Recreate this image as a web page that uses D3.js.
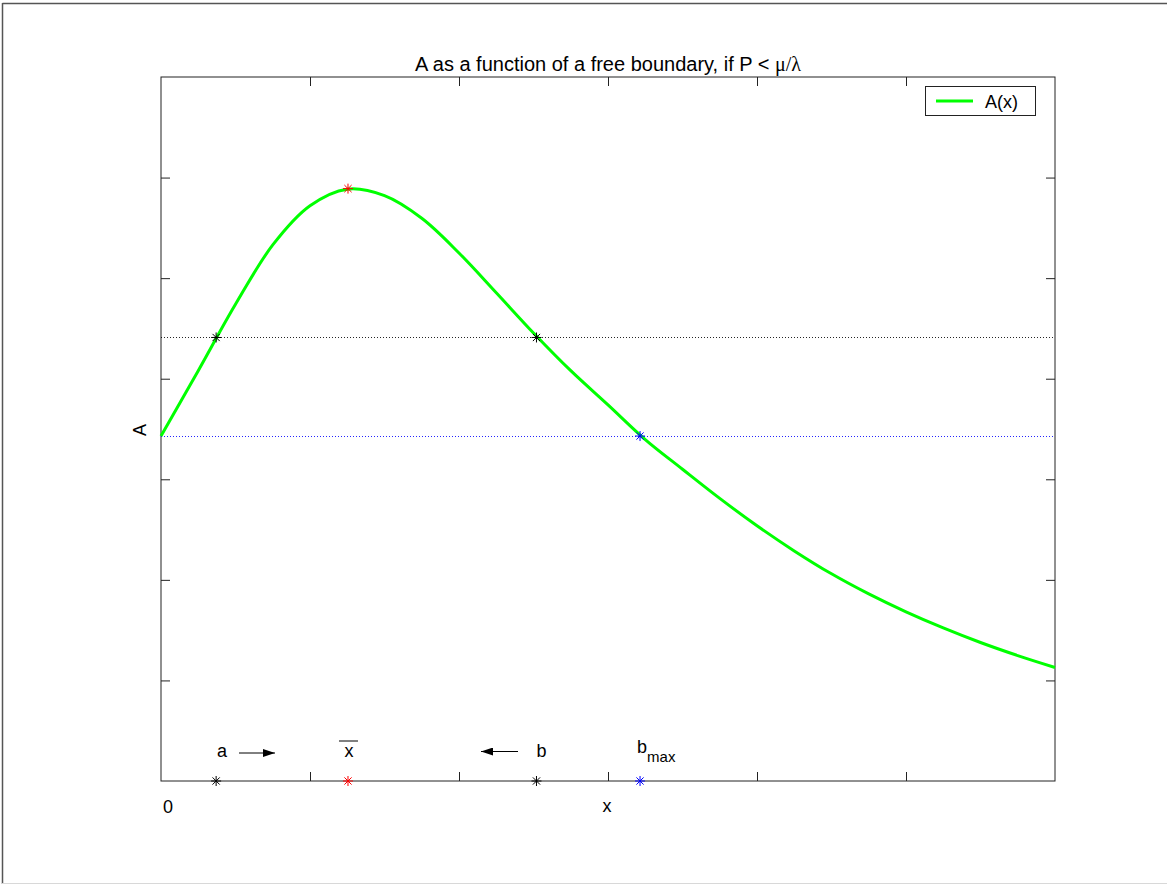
<!DOCTYPE html>
<html>
<head>
<meta charset="utf-8">
<script src="https://cdn.jsdelivr.net/npm/d3@7"></script>
<style>
  html, body { margin: 0; padding: 0; background: #ffffff; }
  svg { display: block; }
  text { font-family: "Liberation Sans", Arial, sans-serif; fill: #000; }
</style>
</head>
<body>
<svg id="chart" width="1167" height="884"></svg>
<script>
// ---- data ----
const curveX = [0, 0.25, 0.5, 0.75, 1.0, 1.25, 1.5, 1.75, 2.0, 2.25, 2.5, 2.75, 3.0, 3.25, 3.5, 3.75, 4.0, 4.25, 4.5, 4.75, 5.0, 5.25, 5.5, 5.75, 6.0];
const curveA = [3.43, 4.08, 4.74, 5.33, 5.72, 5.885, 5.82, 5.595, 5.25, 4.855, 4.455, 4.08, 3.74, 3.395, 3.10, 2.81, 2.538, 2.288, 2.06, 1.86, 1.682, 1.522, 1.377, 1.247, 1.129];
const markerNames = ["a", "xbar", "b", "bmax"];
const markerX = [0.37, 1.255, 2.52, 3.215];
const markerA = [4.41, 5.89, 4.41, 3.43];
const markerColors = ["#000000", "#ff0000", "#000000", "#0000ff"];
const levelValues = [4.41, 3.43];
const levelColors = ["#000000", "#0000ff"];
const xTicks = [1, 2, 3, 4, 5];
const yTicks = [1, 2, 3, 4, 5, 6];
const xDomain = [0, 6];
const yDomain = [0, 7];
const titleText = "A as a function of a free boundary, if P < ";
const legendLabel = "A(x)";

// ---- layout ----
const svg = d3.select("#chart");
const L = 161, R = 1055, T = 77, B = 781;
const x = d3.scaleLinear().domain(xDomain).range([L, R]);
const y = d3.scaleLinear().domain(yDomain).range([B, T]);

// figure frame
svg.append("line").attr("x1", 2.5).attr("x2", 1167).attr("y1", 3.5).attr("y2", 3.5).attr("stroke", "#555").attr("stroke-width", 1.5);
svg.append("line").attr("x1", 2.5).attr("x2", 2.5).attr("y1", 3).attr("y2", 884).attr("stroke", "#555").attr("stroke-width", 1.5);
svg.append("line").attr("x1", 2).attr("x2", 1167).attr("y1", 883.5).attr("y2", 883.5).attr("stroke", "#d8d8d8").attr("stroke-width", 1);

// axes box
const g = svg.append("g");
g.append("rect").attr("x", L).attr("y", T).attr("width", R - L).attr("height", B - T)
  .attr("fill", "none").attr("stroke", "#222").attr("stroke-width", 1);

// ticks via d3 axes (inward)
const tk = 9;
function styleAxis(sel) {
  sel.select(".domain").remove();
  sel.selectAll(".tick line").attr("stroke", "#222");
  sel.selectAll(".tick text").remove();
}
g.append("g").attr("transform", `translate(0,${B})`).call(d3.axisTop(x).tickValues(xTicks).tickSize(tk)).call(styleAxis);
g.append("g").attr("transform", `translate(0,${T})`).call(d3.axisBottom(x).tickValues(xTicks).tickSize(tk)).call(styleAxis);
g.append("g").attr("transform", `translate(${L},0)`).call(d3.axisRight(y).tickValues(yTicks).tickSize(tk)).call(styleAxis);
g.append("g").attr("transform", `translate(${R},0)`).call(d3.axisLeft(y).tickValues(yTicks).tickSize(tk)).call(styleAxis);

// level lines (dotted)
levelValues.forEach((v, i) => {
  g.append("line").attr("x1", L).attr("x2", R).attr("y1", Math.round(y(v)) + 0.5).attr("y2", Math.round(y(v)) + 0.5)
    .attr("stroke", levelColors[i]).attr("stroke-width", 1).attr("stroke-dasharray", "1,2").attr("opacity", 0.85);
});

// curve
const pts = curveX.map((d, i) => [d, curveA[i]]);
g.append("path").datum(pts)
  .attr("d", d3.line().x(d => x(d[0])).y(d => y(d[1])).curve(d3.curveCatmullRom))
  .attr("fill", "none").attr("stroke", "#00ff00").attr("stroke-width", 3);

// asterisk markers
function asterisk(cx, cy, color) {
  const r = 5, d = 3.6;
  const gg = g.append("g").attr("stroke", color).attr("stroke-width", 1);
  gg.append("line").attr("x1", cx - r).attr("x2", cx + r).attr("y1", cy).attr("y2", cy);
  gg.append("line").attr("x1", cx).attr("x2", cx).attr("y1", cy - r).attr("y2", cy + r);
  gg.append("line").attr("x1", cx - d).attr("x2", cx + d).attr("y1", cy - d).attr("y2", cy + d);
  gg.append("line").attr("x1", cx - d).attr("x2", cx + d).attr("y1", cy + d).attr("y2", cy - d);
}
markerX.forEach((mx, i) => {
  asterisk(x(mx), y(markerA[i]), markerColors[i]);
  asterisk(x(mx), y(0), markerColors[i]);
});

// annotations near bottom
const fs = 18;
svg.append("text").attr("x", x(markerX[0]) + 6).attr("y", 757).attr("text-anchor", "middle").attr("font-size", fs).text("a");
svg.append("text").attr("x", x(markerX[1]) + 1).attr("y", 757).attr("text-anchor", "middle").attr("font-size", fs).text("x");
svg.append("line").attr("x1", x(markerX[1]) - 9).attr("x2", x(markerX[1]) + 10).attr("y1", 741).attr("y2", 741).attr("stroke", "#000").attr("stroke-width", 1);
svg.append("text").attr("x", x(markerX[2]) + 5).attr("y", 757).attr("text-anchor", "middle").attr("font-size", fs).text("b");
const bm = svg.append("text").attr("x", x(markerX[3]) - 3).attr("y", 753).attr("font-size", fs);
bm.append("tspan").text("b");
bm.append("tspan").attr("dy", 9).attr("font-size", 15).text("max");

// arrows
svg.append("defs").append("marker").attr("id", "ah").attr("viewBox", "0 0 12 8").attr("refX", 12).attr("refY", 4)
  .attr("markerWidth", 12).attr("markerHeight", 8).attr("markerUnits", "userSpaceOnUse").attr("orient", "auto")
  .append("path").attr("d", "M0,0 L12,4 L0,8 Z").attr("fill", "#000");
svg.append("line").attr("x1", 239).attr("x2", 275).attr("y1", 753).attr("y2", 753).attr("stroke", "#000").attr("stroke-width", 1).attr("marker-end", "url(#ah)");
svg.append("line").attr("x1", 518).attr("x2", 481).attr("y1", 751.5).attr("y2", 751.5).attr("stroke", "#000").attr("stroke-width", 1).attr("marker-end", "url(#ah)");

// axis labels
svg.append("text").attr("x", 168).attr("y", 813).attr("text-anchor", "middle").attr("font-size", fs).text("0");
svg.append("text").attr("x", 607).attr("y", 812).attr("text-anchor", "middle").attr("font-size", fs).text("x");
svg.append("text").attr("transform", "translate(146,430) rotate(-90)").attr("text-anchor", "middle").attr("font-size", fs).text("A");

// title
const tt = svg.append("text").attr("x", (L + R) / 2).attr("y", 71).attr("text-anchor", "middle").attr("font-size", 20);
tt.append("tspan").text(titleText);
tt.append("tspan").attr("font-family", "'Liberation Serif', serif").text("μ/λ");

// legend
svg.append("rect").attr("x", 925.5).attr("y", 86.5).attr("width", 110).attr("height", 29).attr("fill", "#fff").attr("stroke", "#222").attr("stroke-width", 1);
svg.append("line").attr("x1", 936).attr("x2", 973).attr("y1", 101).attr("y2", 101).attr("stroke", "#00ff00").attr("stroke-width", 3);
svg.append("text").attr("x", 985).attr("y", 108).attr("font-size", 18).text(legendLabel);
</script>
</body>
</html>
